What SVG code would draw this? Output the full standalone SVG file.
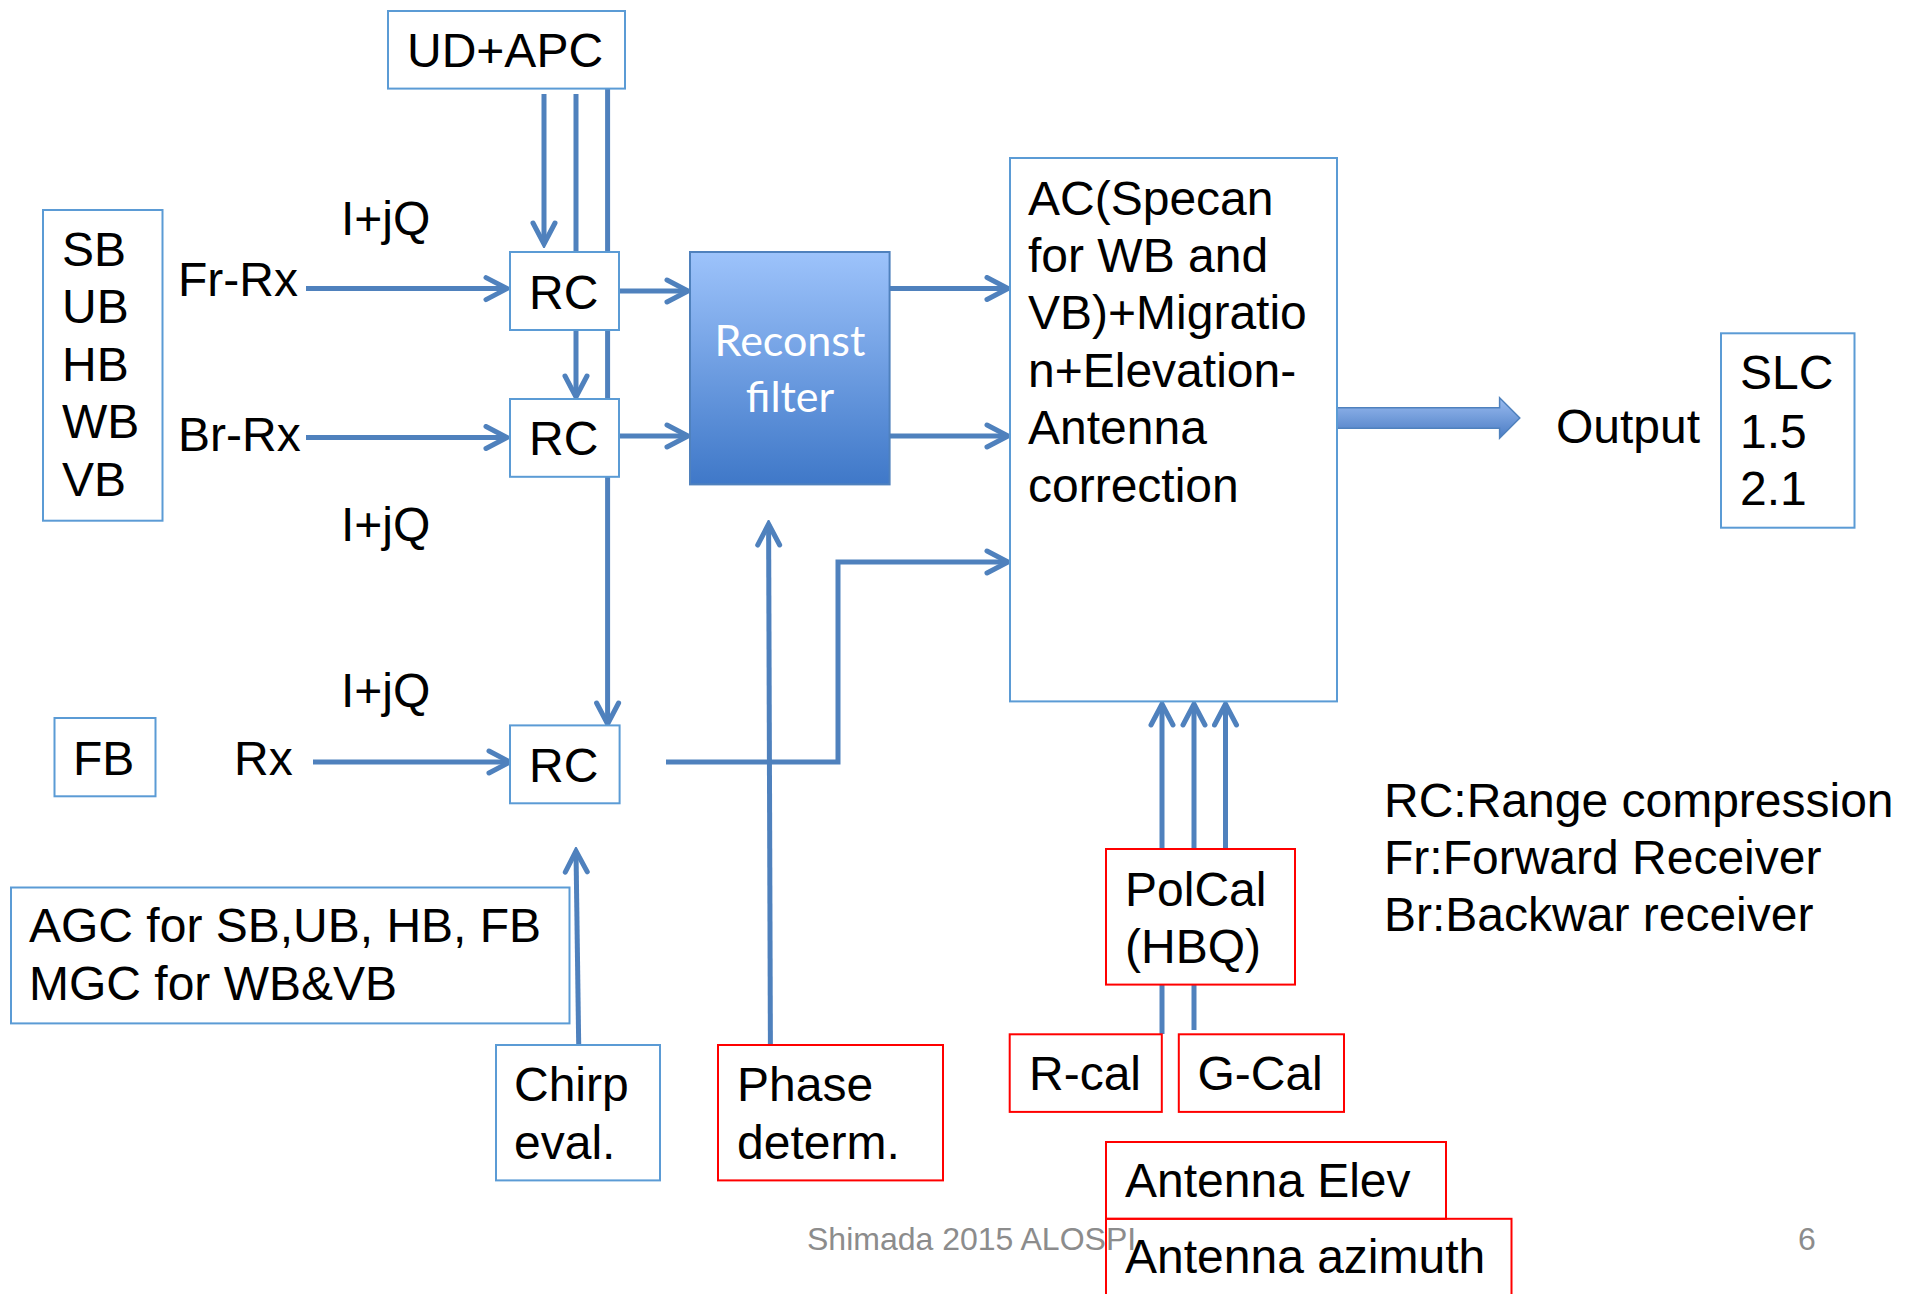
<svg xmlns="http://www.w3.org/2000/svg" width="1910" height="1294" viewBox="0 0 1910 1294">
<style>
.t{font-family:"Liberation Sans",Arial,sans-serif;font-size:48px;fill:#000}
.bb{fill:#fff;stroke:#5b9bd5;stroke-width:2}
.rb{fill:#fff;stroke:#ff0000;stroke-width:2}
.rbn{fill:none;stroke:#ff0000;stroke-width:2}
.c{fill:none;stroke:#4f81bd;stroke-width:5}
.ca{fill:none;stroke:#4f81bd;stroke-width:5;marker-end:url(#ah)}
.ft{font-family:"Liberation Sans",Arial,sans-serif;font-size:32px;fill:#8c8c8c}
</style>
<defs>
<marker id="ah" viewBox="-26 -14 30 28" refX="0" refY="0" markerWidth="30" markerHeight="28" markerUnits="userSpaceOnUse" orient="auto">
<path d="M-21,-11 L0,0 L-21,11" fill="none" stroke="#4f81bd" stroke-width="5" stroke-linecap="round"/>
</marker>
<linearGradient id="gr" x1="0" y1="0" x2="0" y2="1">
<stop offset="0" stop-color="#9dc3fb"/>
<stop offset="1" stop-color="#3f78c8"/>
</linearGradient>
<linearGradient id="ga" x1="0" y1="0" x2="0" y2="1">
<stop offset="0" stop-color="#9bbcf0"/>
<stop offset="1" stop-color="#4a7cc4"/>
</linearGradient>
</defs>
<rect width="1910" height="1294" fill="#fff"/>

<g id="connectors">
<line class="ca" x1="544" y1="94" x2="544" y2="244"/>
<line class="c" x1="576" y1="94" x2="576" y2="252"/>
<line class="ca" x1="607.6" y1="89" x2="607.6" y2="724"/>
<line class="ca" x1="576" y1="330" x2="576" y2="397"/>
<line class="ca" x1="306" y1="288.6" x2="507" y2="288.6"/>
<line class="ca" x1="306" y1="437.5" x2="507" y2="437.5"/>
<line class="ca" x1="313" y1="762" x2="510" y2="762"/>
<line class="ca" x1="620" y1="291" x2="688" y2="291"/>
<line class="ca" x1="620" y1="436" x2="688" y2="436"/>
<line class="ca" x1="890" y1="288.5" x2="1008" y2="288.5"/>
<line class="ca" x1="890" y1="436" x2="1008" y2="436"/>
<polyline class="ca" points="666,762 838,762 838,562 1008,562"/>
<line class="ca" x1="770.4" y1="1045" x2="768.6" y2="524"/>
<line class="ca" x1="578.7" y1="1045" x2="576" y2="851"/>
<line class="ca" x1="1162" y1="849" x2="1162" y2="704"/>
<line class="ca" x1="1194" y1="849" x2="1194" y2="704"/>
<line class="ca" x1="1225.5" y1="849" x2="1225.5" y2="704"/>
<line class="c" x1="1162" y1="985" x2="1162" y2="1034"/>
<line class="c" x1="1194" y1="985" x2="1194" y2="1030"/>
<polygon points="1337,407.7 1499.6,407.7 1499.6,397.7 1519.8,418 1499.6,438.3 1499.6,428.3 1337,428.3" fill="url(#ga)" stroke="#4f81bd" stroke-width="1.5"/>
</g>

<g id="ud-apc"><rect class="bb" x="388" y="11" width="237" height="77.6"/><text class="t" x="407" y="67">UD+APC</text></g>
<g id="bands"><rect class="bb" x="43" y="210" width="119.5" height="310.7"/>
<text class="t" x="62" y="266">SB</text><text class="t" x="62" y="323.4">UB</text><text class="t" x="62" y="380.8">HB</text><text class="t" x="62" y="438.2">WB</text><text class="t" x="62" y="495.6">VB</text></g>
<g id="lbl-frrx"><text class="t" x="178" y="296">Fr-Rx</text></g>
<g id="lbl-brrx"><text class="t" x="178" y="451">Br-Rx</text></g>
<g id="lbl-iq1"><text class="t" x="341" y="235">I+jQ</text></g>
<g id="lbl-iq2"><text class="t" x="341" y="541">I+jQ</text></g>
<g id="lbl-iq3"><text class="t" x="341" y="707">I+jQ</text></g>
<g id="rc1"><rect class="bb" x="510" y="252" width="109" height="78"/><text class="t" x="529" y="309">RC</text></g>
<g id="rc2"><rect class="bb" x="510" y="399" width="109" height="77.8"/><text class="t" x="529" y="455">RC</text></g>
<g id="rc3"><rect class="bb" x="510" y="725.4" width="109.6" height="77.9"/><text class="t" x="529" y="782">RC</text></g>
<g id="fb"><rect class="bb" x="54.5" y="718" width="101" height="78.3"/><text class="t" x="73" y="775">FB</text></g>
<g id="lbl-rx"><text class="t" x="234" y="775">Rx</text></g>
<g id="reconst"><rect x="690" y="252" width="199.6" height="232.4" fill="url(#gr)" stroke="#4f81bd" stroke-width="2"/>
<text x="790" y="355.5" text-anchor="middle" font-family="Lato,'Open Sans',sans-serif" font-size="43" fill="#fff">Reconst</text>
<text x="790" y="411.7" text-anchor="middle" font-family="Lato,'Open Sans',sans-serif" font-size="43" fill="#fff">filter</text></g>
<g id="ac"><rect class="bb" x="1010" y="158" width="327" height="543.4"/>
<text class="t" x="1028" y="214.6">AC(Specan</text><text class="t" x="1028" y="272">for WB and</text><text class="t" x="1028" y="329.4">VB)+Migratio</text><text class="t" x="1028" y="386.8">n+Elevation-</text><text class="t" x="1028" y="444.2">Antenna</text><text class="t" x="1028" y="501.6">correction</text></g>
<g id="lbl-output"><text class="t" x="1556" y="443">Output</text></g>
<g id="slc"><rect class="bb" x="1721" y="333.3" width="133.5" height="194.4"/>
<text class="t" x="1740" y="389.3">SLC</text><text class="t" x="1740" y="447.7">1.5</text><text class="t" x="1740" y="505">2.1</text></g>
<g id="legend"><text class="t" x="1384" y="817">RC:Range compression</text><text class="t" x="1384" y="874">Fr:Forward Receiver</text><text class="t" x="1384" y="931">Br:Backwar receiver</text></g>
<g id="agc"><rect class="bb" x="11" y="887.5" width="558.5" height="135.9"/>
<text class="t" x="29" y="941.5">AGC for SB,UB, HB, FB</text><text class="t" x="29" y="1000">MGC for WB&amp;VB</text></g>
<g id="chirp"><rect class="bb" x="496" y="1045" width="164" height="135.4"/>
<text class="t" x="514" y="1101">Chirp</text><text class="t" x="514" y="1158.5">eval.</text></g>
<g id="phase"><rect class="rb" x="718" y="1045" width="225" height="135.4"/>
<text class="t" x="737" y="1101">Phase</text><text class="t" x="737" y="1158.5">determ.</text></g>
<g id="polcal"><rect class="rb" x="1106" y="849" width="189" height="135.6"/>
<text class="t" x="1125" y="906">PolCal</text><text class="t" x="1125" y="963">(HBQ)</text></g>
<g id="rcal"><rect class="rb" x="1009.7" y="1034.3" width="152.1" height="77.6"/><text class="t" x="1029" y="1090">R-cal</text></g>
<g id="gcal"><rect class="rb" x="1178.8" y="1034.3" width="165.2" height="77.6"/><text class="t" x="1197.4" y="1090">G-Cal</text></g>
<g id="ant-elev"><rect class="rbn" x="1106" y="1142" width="340" height="76.8"/><text class="t" x="1125" y="1197">Antenna Elev</text></g>
<g id="ant-az"><rect class="rbn" x="1106" y="1218.8" width="405.5" height="90"/><text class="t" x="1125" y="1273">Antenna azimuth</text></g>
<g id="footer"><text class="ft" x="807" y="1250">Shimada 2015 ALOSPI</text><text class="ft" x="1798" y="1250">6</text></g>
</svg>
